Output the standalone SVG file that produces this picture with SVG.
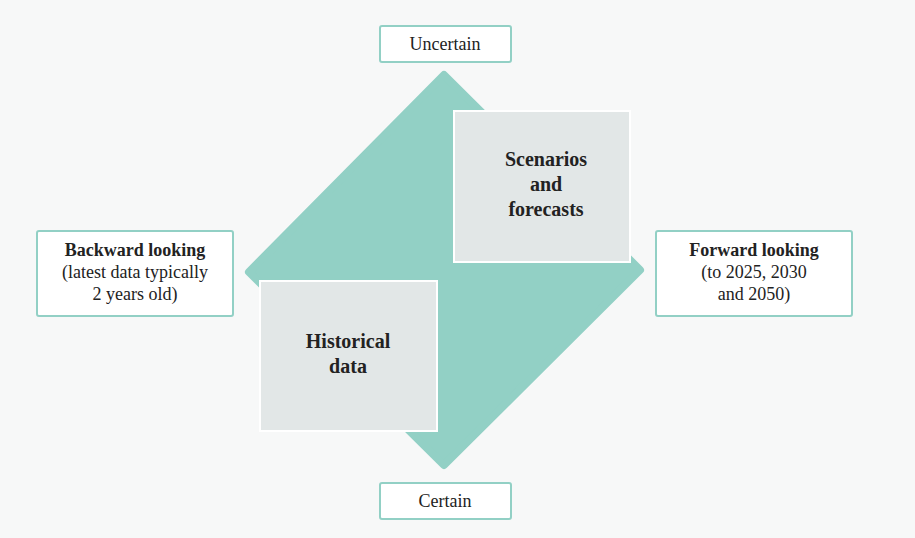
<svg xmlns="http://www.w3.org/2000/svg" width="915" height="538" viewBox="0 0 915 538">
<style>
.lbl{fill:#fff;stroke:#92d0c5;stroke-width:2}
.q{fill:#e2e7e7;stroke:#fff;stroke-width:2}
text{font-family:"Liberation Serif","DejaVu Serif",serif;font-size:18px;fill:#222;text-anchor:middle}
.b{font-weight:bold;font-size:20px}
</style>
<rect width="915" height="538" fill="#f7f8f8"/>
<g id="diamond"><path d="M444 75 L640 270 L444 465 L249 272 Z" fill="#92d0c5" stroke="#92d0c5" stroke-width="8" stroke-linejoin="round"/></g>
<g id="connectors"></g>
<g id="scenarios"><rect class="q" x="454" y="111" width="176" height="151"/><text class="b" x="546" y="166">Scenarios</text><text class="b" x="546" y="191">and</text><text class="b" x="546" y="216">forecasts</text></g>
<g id="historical"><rect class="q" x="260" y="281" width="177" height="150"/><text class="b" x="348" y="348">Historical</text><text class="b" x="348" y="373">data</text></g>
<g id="uncertain"><rect class="lbl" x="380" y="26" width="131" height="36" rx="2"/><text x="445" y="50">Uncertain</text></g>
<g id="certain"><rect class="lbl" x="380" y="483" width="131" height="36" rx="2"/><text x="445" y="507">Certain</text></g>
<g id="backward"><rect class="lbl" x="37" y="231" width="196" height="85" rx="2"/><text x="135" y="256" font-weight="bold">Backward looking</text><text x="135" y="278">(latest data typically</text><text x="135" y="300">2 years old)</text></g>
<g id="forward"><rect class="lbl" x="656" y="231" width="196" height="85" rx="2"/><text x="754" y="256" font-weight="bold">Forward looking</text><text x="754" y="278">(to 2025, 2030</text><text x="754" y="300">and 2050)</text></g>
</svg>
